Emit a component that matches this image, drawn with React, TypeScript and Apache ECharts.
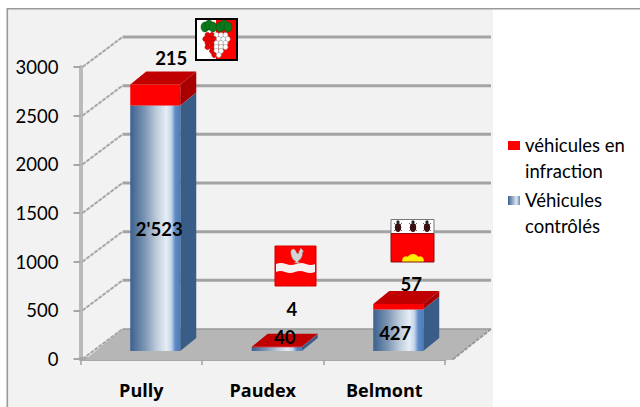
import React, { useEffect, useRef } from "react";
import * as echarts from "echarts";

const categories = ["Pully", "Paudex", "Belmont"];
const controlled = [2523, 40, 427];
const infractions = [215, 4, 57];
const ticks = [0, 500, 1000, 1500, 2000, 2500, 3000];
const controlledName = "Véhicules\ncontrôlés";
const infractionName = "véhicules en\ninfraction";

// hand-placed label offsets of the original, in pixels from each segment's centre
const controlledLabelShift = [[4, 1], [8, -12], [-3, 3]];
const infractionLabelShift = [[16, -37], [15, -38], [13, -23]];

const FONT = "Lato";
const BAR_W = 50;
const BAR_DX = 14;
const BAR_DY = -8;
const DEPTH_X = 16;
const DEPTH_Y = -13;
const WALL_X = 41;
const WALL_Y = -30;
const WALL_END = 491;
// legend mark: a box at the top of a 12x36 frame, so that it sits beside the first text line
const LEGEND_ICON = "path://M0 1H12V10H0Z M0 0L0.01 0L0 0Z M0 36L0.01 36L0 36Z";

const fmt = (v: number) => String(v).replace(/\B(?=(\d{3})+$)/g, "'");

const blueFace = () =>
  new echarts.graphic.LinearGradient(0, 0, 1, 0, [
    { offset: 0, color: "#3b618f" },
    { offset: 0.3, color: "#7f97b5" },
    { offset: 0.52, color: "#bccad9" },
    { offset: 0.72, color: "#e6edf5" },
    { offset: 0.82, color: "#c5d6ea" },
    { offset: 0.9, color: "#5c8bc9" },
    { offset: 1, color: "#4f7cb5" },
  ]);

const barRender = (
  faces: { front: () => any; side: string; top: string },
  shifts: number[][],
) => (params: any, api: any) => {
  const idx = api.value(0);
  const val = api.value(1);
  const base = api.value(2);
  const a = api.coord([idx, base]);
  const b = api.coord([idx, base + val]);
  const l = a[0] - BAR_W / 2 + BAR_DX;
  const r = l + BAR_W;
  const y0 = a[1] + BAR_DY;
  const y1 = b[1] + BAR_DY;
  const s = shifts[params.dataIndex];
  return {
    type: "group",
    children: [
      { type: "polygon", shape: { points: [[r, y0], [r + DEPTH_X, y0 + DEPTH_Y], [r + DEPTH_X, y1 + DEPTH_Y], [r, y1]] }, style: { fill: faces.side } },
      { type: "polygon", shape: { points: [[l, y1], [l + DEPTH_X, y1 + DEPTH_Y], [r + DEPTH_X, y1 + DEPTH_Y], [r, y1]] }, style: { fill: faces.top } },
      { type: "rect", shape: { x: l, y: y1, width: BAR_W, height: Math.max(y0 - y1, 0.6) }, style: { fill: faces.front() } },
      {
        type: "text",
        z2: 20,
        style: {
          text: fmt(val),
          x: (l + r) / 2 + s[0],
          y: (y0 + y1) / 2 + s[1],
          align: "center",
          verticalAlign: "middle",
          font: `bold 18.5px ${FONT}`,
          fill: "#000",
        },
      },
    ],
  };
};

const wallRender = (params: any, api: any) => {
  const cs = params.coordSys;
  const y = api.coord([0, api.value(1)])[1];
  const x = cs.x + 1;
  const children: any[] = [];
  if (api.value(1) === 0) {
    children.push({
      type: "polygon",
      shape: { points: [[x + 3, y + 1], [x + WALL_X, y + WALL_Y], [WALL_END - 1, y + WALL_Y], [WALL_END - 39, y + 1]] },
      style: { fill: "#b6b6b6" },
    });
    children.push({
      type: "line",
      shape: { x1: WALL_END, y1: y + WALL_Y, x2: WALL_END - 39, y2: y + 1 },
      style: { stroke: "#999", lineWidth: 2, lineDash: [4, 1] },
    });
  }
  children.push({
    type: "line",
    shape: { x1: x + 1, y1: y, x2: x + WALL_X, y2: y + WALL_Y },
    style: { stroke: "#a8a8a8", lineWidth: 2, lineDash: [4, 1] },
  });
  children.push({
    type: "line",
    shape: { x1: x + WALL_X, y1: y + WALL_Y, x2: WALL_END, y2: y + WALL_Y },
    style: { stroke: api.value(1) === 0 ? "#999" : "#a3a3a3", lineWidth: api.value(1) === 0 ? 1.5 : 3 },
  });
  return { type: "group", children };
};

// decorative coats of arms
const grapeRows: [number, number][] = [[35, 5], [39, 6], [43, 5], [47, 5], [51, 3], [55, 2]];

function pullyArms() {
  const items: any[] = [
    { type: "rect", z: 50, shape: { x: 195, y: 18, width: 43, height: 43 }, style: { fill: "#ee0000" } },
    { type: "rect", z: 51, shape: { x: 196, y: 19, width: 20, height: 41 }, style: { fill: "#fff" } },
    { type: "rect", z: 51, shape: { x: 216, y: 19, width: 21, height: 41 }, style: { fill: "#ff0000" } },
  ];
  grapeRows.forEach(([y, n]) => {
    for (let i = 0; i < n; i++) {
      const x = 216.5 + (i - (n - 1) / 2) * 4.5;
      const red = x < 216.5;
      items.push({
        type: "circle",
        z: 52,
        shape: { cx: x, cy: y, r: 2.5 },
        style: { fill: red ? "#f00000" : "#fff", stroke: red ? "#a00000" : "#9a9a9a", lineWidth: 0.6 },
      });
    }
  });
  [[205, 27], [209, 25], [213, 27], [220, 27], [224, 25], [228, 27]].forEach(([cx, cy]) =>
    items.push({ type: "ellipse", z: 53, shape: { cx, cy, rx: 4, ry: 5 }, style: { fill: "#0c7a1c", stroke: "#064d10", lineWidth: 0.5 } }),
  );
  items.push({ type: "rect", z: 54, shape: { x: 196, y: 19, width: 41, height: 41 }, style: { fill: "none", stroke: "#000", lineWidth: 2 } });
  return items;
}

function paudexArms() {
  return [
    { type: "rect", z: 50, shape: { x: 275, y: 246, width: 41, height: 40 }, style: { fill: "#ff0000", stroke: "#d00000", lineWidth: 1 } },
    { type: "wave", z: 51, x: 276, y: 262, style: { fill: "#f6f0f0" } },
    { type: "rooster", z: 52, x: 290, y: 248, scaleX: 0.72, scaleY: 0.88, style: { fill: "#d4d4d4", stroke: "#8a8a8a", lineWidth: 0.5 } },
  ];
}

function belmontArms() {
  const items: any[] = [
    { type: "rect", z: 50, shape: { x: 391, y: 219.5, width: 43, height: 14 }, style: { fill: "#fff" } },
    { type: "rect", z: 50, shape: { x: 391, y: 233.5, width: 43, height: 28.5 }, style: { fill: "#ff0000" } },
  ];
  [398, 413, 427].forEach((x) => {
    items.push({ type: "line", z: 51, shape: { x1: x - 4, y1: 223, x2: x + 4, y2: 231 }, style: { stroke: "#444", lineWidth: 0.8 } });
    items.push({ type: "line", z: 51, shape: { x1: x + 4, y1: 223, x2: x - 4, y2: 231 }, style: { stroke: "#444", lineWidth: 0.8 } });
    items.push({ type: "ellipse", z: 52, shape: { cx: x, cy: 227.5, rx: 3.2, ry: 4.6 }, style: { fill: "#3a1010" } });
    items.push({ type: "circle", z: 52, shape: { cx: x, cy: 222, r: 1.6 }, style: { fill: "#222" } });
  });
  [[406, 260, 3.7], [420, 260, 3.7], [413, 260, 6]].forEach(([cx, cy, r]) => {
    items.push({ type: "circle", z: 53, shape: { cx, cy, r }, style: { fill: "#ffee00" } });
    items.push({ type: "rect", z: 53, shape: { x: cx - r, y: cy, width: 2 * r, height: 262 - cy }, style: { fill: "#ffee00" } });
  });
  // hide the parts of the circles below the shield
  items.push({ type: "rect", z: 53, shape: { x: 400, y: 262, width: 26, height: 5 }, style: { fill: "#f2f2f2" } });
  items.push({ type: "rect", z: 54, shape: { x: 391, y: 219.5, width: 43, height: 14 }, style: { fill: "none", stroke: "#777", lineWidth: 1 } });
  items.push({ type: "rect", z: 54, shape: { x: 391, y: 233.5, width: 43, height: 28.5 }, style: { fill: "none", stroke: "#8a1010", lineWidth: 1 } });
  return items;
}

export default function App() {
  const ref = useRef<HTMLDivElement>(null);
  useEffect(() => {
    document.body.style.margin = "0";
    echarts.graphic.registerShape(
      "wave",
      echarts.graphic.extendPath(
        "M0 2 Q5 0 10 2 T20 2 T30 2 T39 2 L39 10 Q34 12 29 10 T19 10 T9 10 T0 10 Z",
        {},
      ) as any,
    );
    echarts.graphic.registerShape(
      "rooster",
      echarts.graphic.extendPath(
        "M1 5 Q1 1 5 1 Q8 2 9 5 Q10 7 12 6 Q12 3 14 2 L15 0 L17 2 L19 4 L17 5 Q18 9 15 12 Q12 15 11 15 L11 16 L14 17 L6 17 L8 16 L8 15 Q2 13 1 5 Z",
        {},
      ) as any,
    );
    const chart = echarts.init(ref.current!, undefined, { renderer: "svg" });
    const textBlack = { color: "#000", fontFamily: FONT };
    const stackedBases = infractions.map((_, i) => controlled[i]);
    chart.setOption({
      animation: false,
      backgroundColor: "#fff",
      textStyle: { fontFamily: FONT },
      grid: { left: 80.5, right: 195, top: 67, bottom: 48, containLabel: false },
      xAxis: {
        type: "category",
        data: categories,
        offset: 2,
        axisLine: { lineStyle: { color: "#a8a8a8", width: 4 } },
        axisTick: { show: true, length: 6, lineStyle: { color: "#a0a0a0", width: 1.5 } },
        axisLabel: { color: "#000", fontFamily: "Open Sans", fontWeight: "bold", fontSize: 18, margin: 20 },
      },
      yAxis: {
        type: "value",
        min: 0,
        max: 3000,
        interval: 500,
        splitLine: { show: false },
        axisLine: { show: true, lineStyle: { color: "#bababa", width: 4 } },
        axisTick: { show: true, length: 7, lineStyle: { color: "#a6a6a6", width: 2 } },
        axisLabel: { ...textBlack, fontSize: 18.5, margin: 22, formatter: (v: number) => String(v) },
      },
      legend: {
        left: 508,
        top: 132,
        padding: 0,
        orient: "vertical",
        align: "left",
        itemWidth: 12,
        itemHeight: 36,
        itemGap: 3,
        symbolKeepAspect: false,
        selectedMode: false,
        textStyle: { ...textBlack, fontSize: 18.5, lineHeight: 26 },
        data: [
          { name: infractionName, icon: LEGEND_ICON, itemStyle: { color: "#ff0000" } },
          {
            name: controlledName,
            icon: LEGEND_ICON,
            itemStyle: {
              color: new echarts.graphic.LinearGradient(0, 0, 1, 0, [
                { offset: 0, color: "#3b618f" },
                { offset: 0.7, color: "#dfe7f0" },
                { offset: 1, color: "#5c8bc9" },
              ]),
            },
          },
        ],
      },
      graphic: [
        { type: "rect", z: -10, shape: { x: 7, y: 8, width: 486, height: 399 }, style: { fill: "#f2f2f2" } },
        { type: "rect", z: -9, shape: { x: 7, y: 8, width: 633, height: 1.6 }, style: { fill: "#9a9a9a" } },
        { type: "rect", z: -9, shape: { x: 6.5, y: 8, width: 1.6, height: 399 }, style: { fill: "#9a9a9a" } },
        ...pullyArms(),
        ...paudexArms(),
        ...belmontArms(),
      ],
      series: [
        {
          type: "custom",
          name: "walls",
          z: 1,
          clip: false,
          silent: true,
          renderItem: wallRender,
          encode: { x: 0, y: 1 },
          data: ticks.map((t) => [0, t]),
        },
        {
          type: "custom",
          name: controlledName,
          z: 3,
          clip: false,
          renderItem: barRender({ front: blueFace, side: "#3a5d87", top: "#9db3cc" }, controlledLabelShift),
          encode: { x: 0, y: 1 },
          data: controlled.map((v, i) => [i, v, 0]),
        },
        {
          type: "custom",
          name: infractionName,
          z: 3,
          clip: false,
          renderItem: barRender({ front: () => "#ff0000", side: "#a80000", top: "#c00000" }, infractionLabelShift),
          encode: { x: 0, y: 1 },
          data: infractions.map((v, i) => [i, v, stackedBases[i]]),
        },
      ],
    });
    return () => chart.dispose();
  }, []);
  return <div ref={ref} style={{ width: 640, height: 407, position: "absolute", left: 0, top: 0 }} />;
}
